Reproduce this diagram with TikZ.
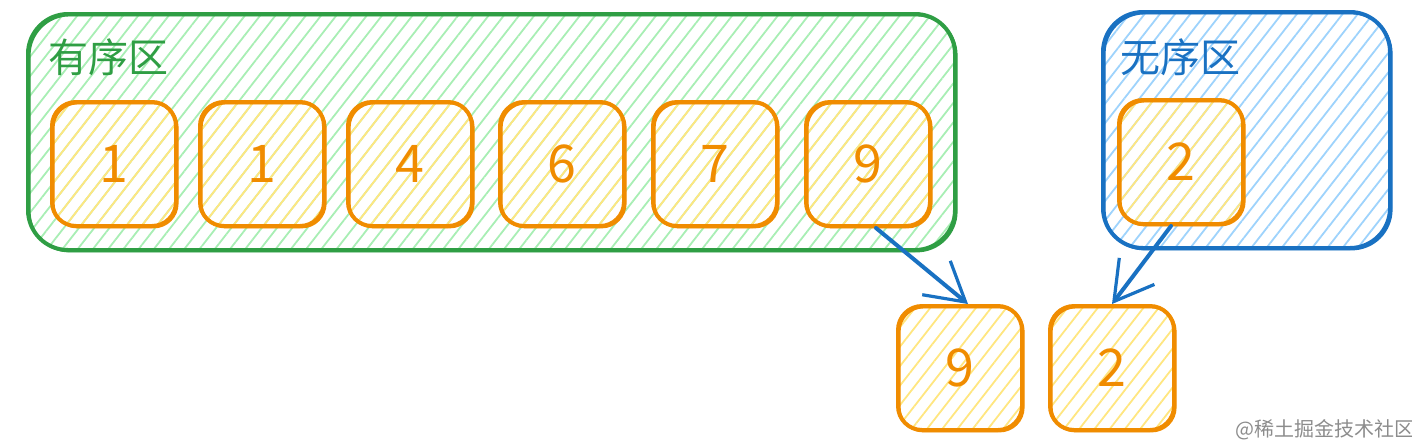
\documentclass[tikz,border=0pt]{standalone}
\usepackage{fontspec}
\setmainfont{Noto Sans CJK SC}
\usetikzlibrary{arrows.meta,patterns.meta}
\definecolor{grn}{HTML}{2F9E44}
\definecolor{grnfill}{HTML}{A8EEB4}
\definecolor{blu}{HTML}{1971C2}
\definecolor{blufill}{HTML}{9ED3FC}
\definecolor{org}{HTML}{F08C00}
\definecolor{orgfill}{HTML}{FFE680}
\tikzset{
  hatch/.style={pattern={Lines[angle=52,distance=6pt,line width=0.9pt]},pattern color=#1},
  zone/.style={draw=#1,line width=2pt,rounded corners=20pt,inner sep=0pt},
  cell/.style={draw=org,line width=2pt,rounded corners=12pt,minimum size=62pt,inner sep=0pt,
    text=org,font=\fontsize{26}{30}\selectfont,hatch=orgfill},
  sketch/.style={postaction={draw,line width=1pt,transform canvas={shift={(0.8pt,-0.7pt)}}}},
  tag/.style={anchor=north west,inner sep=0pt,font=\fontsize{20}{24}\selectfont},
  flow/.style={draw=blu,line width=2pt,-{Straight Barb[length=19pt,width=22pt,line width=1.6pt]}}
}
\begin{document}
\begin{tikzpicture}[line cap=round,line join=round,x=0.5pt,y=-0.5pt]
\useasboundingbox (0,0) rectangle (1412,446);
% zones
\node[zone=grn,sketch,minimum width=463.5pt,minimum height=118pt,hatch=grnfill] (sorted) at (491.5,132) {};
\node[zone=blu,sketch,minimum width=143.5pt,minimum height=118pt,hatch=blufill] (unsorted) at (1246.5,130) {};
\node[tag,text=grn] (sortedlabel) at (48,38) {有序区};
\node[tag,text=blu] (unsortedlabel) at (1120,38) {无序区};
% sorted cells
\node[cell,sketch] (s1) at (114,164) {1};
\node[cell,sketch] (s2) at (262,164) {1};
\node[cell,sketch] (s3) at (410,164) {4};
\node[cell,sketch] (s4) at (562,164) {6};
\node[cell,sketch] (s5) at (715,164) {7};
\node[cell,sketch] (s6) at (868,164) {9};
% unsorted cell
\node[cell,sketch] (u1) at (1181,162) {2};
% compared pair
\node[cell,sketch] (c1) at (960,368) {9};
\node[cell,sketch] (c2) at (1112,368) {2};
\draw[flow] ([xshift=4pt]s6.south) -- ([xshift=4pt]c1.north);
\draw[flow] ([xshift=-5pt]u1.south) -- (c2.north);
\node[text=black!45,font=\fontsize{10}{12}\selectfont] (mark) at (1325,430) {@稀土掘金技术社区};
\end{tikzpicture}
\end{document}
